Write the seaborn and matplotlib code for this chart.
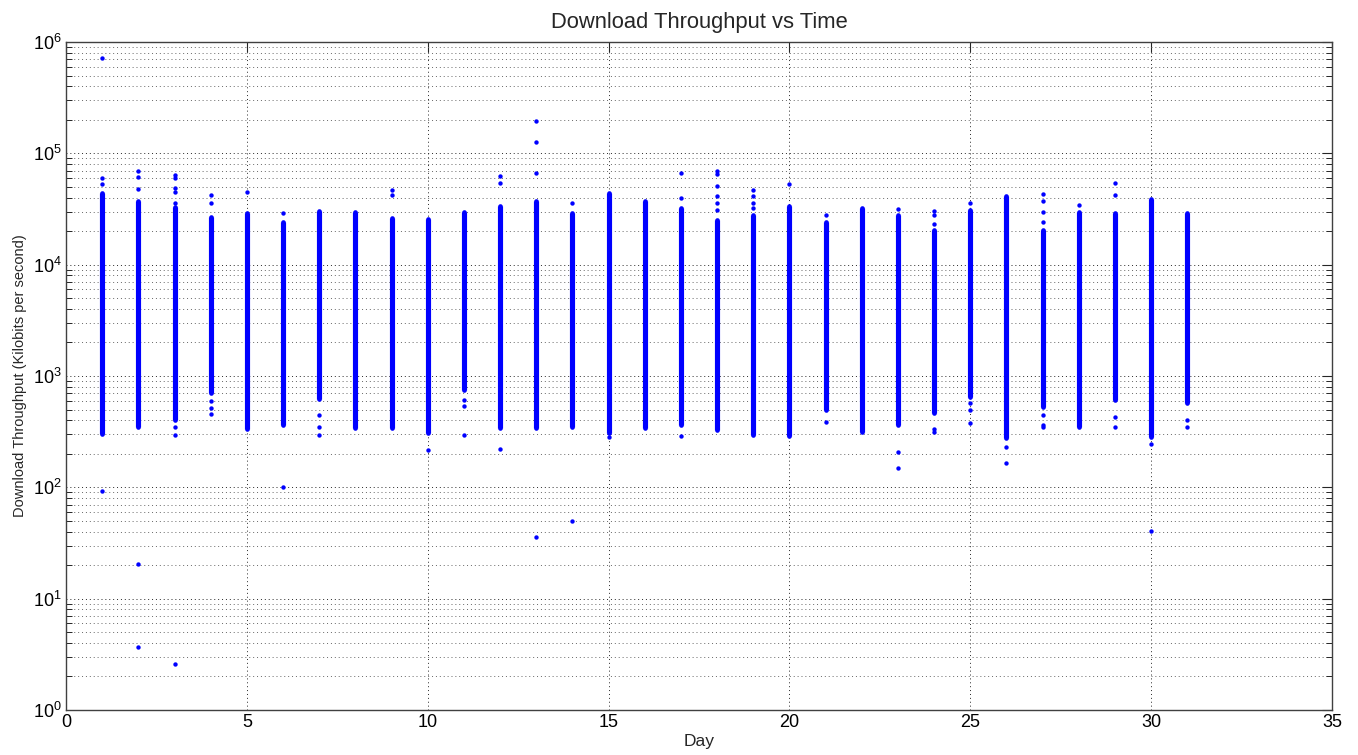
import numpy as np
import pandas as pd
import matplotlib
matplotlib.use("Agg")
import matplotlib.pyplot as plt
import seaborn as sns
from matplotlib.ticker import FixedLocator, LogFormatterMathtext, MultipleLocator, NullFormatter

# ---- data ----
days = list(range(1, 32))
band_low = [300, 351, 404, 700, 332, 364, 620, 340, 340, 306, 750, 340, 340, 351, 306,
            340, 364, 328, 296, 290, 496, 317, 364, 463, 650, 276, 528, 351, 610, 286, 570]
band_high = [44000, 37000, 33000, 27000, 29000, 24400, 30600, 30000, 26000, 25800, 29600,
             33500, 37400, 29000, 44000, 37400, 32000, 25000, 28000, 33500, 24400, 32000,
             28000, 20500, 31000, 41000, 20500, 30000, 29400, 39000, 29000]

outlier_day = [1, 1, 1, 1,
               2, 2, 2, 2, 2,
               3, 3, 3, 3, 3, 3, 3, 3,
               4, 4, 4, 4, 4,
               5,
               6, 6,
               7, 7, 7,
               9, 9,
               10,
               11, 11, 11,
               12, 12, 12,
               13, 13, 13, 13,
               14, 14,
               15,
               17, 17, 17,
               18, 18, 18, 18, 18, 18,
               19, 19, 19, 19,
               20,
               21, 21,
               23, 23, 23,
               24, 24, 24, 24, 24,
               25, 25, 25, 25,
               26, 26,
               27, 27, 27, 27, 27, 27, 27,
               28,
               29, 29, 29, 29,
               30, 30,
               31, 31]
outlier_val = [720000, 60000, 53000, 93,
               69000, 61000, 48000, 20.4, 3.66,
               64000, 60000, 49000, 45000, 36000, 2.57, 296, 350,
               42000, 36000, 460, 520, 600,
               45000,
               29400, 100,
               447, 351, 296,
               47000, 42000,
               217,
               610, 540, 296,
               63000, 54000, 221,
               196000, 126000, 66000, 36,
               36000, 50,
               282,
               66000, 40000, 290,
               69000, 65000, 51000, 41000, 36000, 31000,
               47000, 41000, 36000, 32000,
               53000,
               28000, 384,
               31700, 207, 150,
               30600, 28000, 23000, 332, 317,
               36000, 570, 496, 380,
               232, 164,
               43000, 37000, 30000, 24000, 447, 364, 351,
               34000,
               54000, 42000, 432, 346,
               245, 40.5,
               404, 346]

y_major = [1, 10, 100, 1000, 10000, 100000, 1000000]
y_minor = [m * d for d in y_major[:-1] for m in range(2, 10)]
x_ticks = [0, 5, 10, 15, 20, 25, 30, 35]

# ---- build tables ----
bands = pd.DataFrame({
    "Day": days + days,
    "Throughput": band_low + band_high,
})
outliers = pd.DataFrame({"Day": outlier_day, "Throughput": outlier_val})

sns.set_style("white")
plt.rcParams["font.family"] = ["Liberation Sans", "DejaVu Sans"]
plt.rcParams["mathtext.fontset"] = "custom"
plt.rcParams["mathtext.rm"] = "Liberation Sans"

fig = plt.figure(figsize=(13.58, 7.55), dpi=100)
ax = fig.add_axes([66 / 1358, 45 / 755, (1332 - 66) / 1358, (710 - 42) / 755])

blue = (0, 0, 1)
sns.lineplot(data=bands, x="Day", y="Throughput", units="Day", estimator=None,
             color=blue, lw=3.7, ax=ax, solid_capstyle="butt", legend=False)
sns.scatterplot(data=bands, x="Day", y="Throughput", color=blue, s=11, linewidth=0,
                ax=ax, legend=False)
sns.scatterplot(data=outliers, x="Day", y="Throughput", color=blue, s=10, linewidth=0,
                ax=ax, legend=False)

ax.set_yscale("log")
ax.set_ylim(1, 1e6)
ax.set_xlim(0, 35)
ax.xaxis.set_major_locator(FixedLocator(x_ticks))
ax.yaxis.set_major_locator(FixedLocator(y_major))
ax.yaxis.set_major_formatter(LogFormatterMathtext())
ax.yaxis.set_minor_locator(FixedLocator(y_minor))
ax.yaxis.set_minor_formatter(NullFormatter())

ax.grid(True, which="major", axis="both", linestyle=(0, (1, 3)), color="0.15", lw=0.7)
ax.grid(True, which="minor", axis="y", linestyle=(0, (1, 3)), color="0.4", lw=0.7)
ax.set_axisbelow(True)

ax.tick_params(axis="both", which="major", direction="in", length=7, width=0.8,
               top=True, right=True, labelsize=13, colors="0.15", labelcolor="black", pad=3)
ax.tick_params(axis="y", which="minor", direction="in", length=4, width=0.7,
               left=True, right=True, colors="0.15")
for s in ax.spines.values():
    s.set_color("0.25")
    s.set_linewidth(1.0)

ax.set_xlabel("Day", fontsize=12.5, labelpad=2)
ax.set_ylabel("Download Throughput (Kilobits per second)", fontsize=10.5, labelpad=4)
ax.set_title("Download Throughput vs Time", fontsize=15.8, pad=10)

fig.savefig("out.png", dpi=100)
